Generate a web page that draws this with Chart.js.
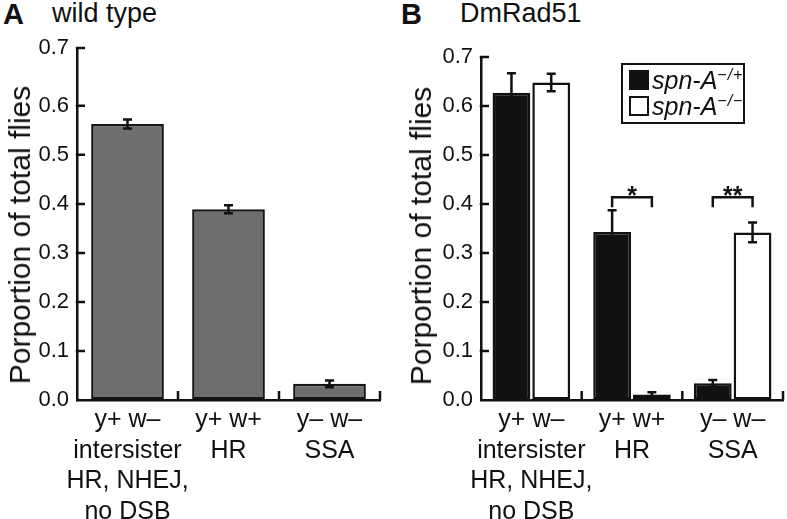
<!DOCTYPE html>
<html>
<head>
<meta charset="utf-8">
<script src="https://cdn.jsdelivr.net/npm/chart.js@4.4.0/dist/chart.umd.min.js"></script>
<style>
  html, body { margin: 0; padding: 0; background: #fff; }
  body { width: 787px; height: 519px; overflow: hidden; position: relative;
         font-family: "Liberation Sans", Arial, Helvetica, sans-serif; color: #111; }
  .wrap { position: absolute; top: 0; height: 519px; }
  .plab { position: absolute; top: 0; font-weight: bold; font-size: 29px; line-height: 1; }
  .ptitle { position: absolute; top: 0; font-size: 27px; line-height: 1; }
  .ytitle { position: absolute; font-size: 30px; line-height: 1; white-space: nowrap;
            transform: translate(-50%, -50%) rotate(-90deg); }
  #legend { position: absolute; left: 621px; top: 63px; width: 120px; height: 55px;
            border: 2.5px solid #111; padding-top: 2px; box-sizing: content-box; }
  #legend .row { display: flex; align-items: center; height: 26px; padding-left: 6px; }
  #legend .sw { width: 20px; height: 20px; box-sizing: border-box; border: 2px solid #111; margin-right: 3px; flex: none; }
  #legend .txt { font-style: italic; font-size: 25px; line-height: 1; white-space: nowrap; }
  #legend sup { font-size: 16px; font-style: italic; vertical-align: 9px; line-height: 0; letter-spacing: 1px; }
</style>
</head>
<body>
<div class="plab" style="left:3px;">A</div>
<div class="ptitle" style="left:52px;">wild type</div>
<div class="plab" style="left:401px;">B</div>
<div class="ptitle" style="left:460px;">DmRad51</div>

<div class="wrap" style="left:0; width:393px;"><canvas id="chartA" width="393" height="519"></canvas></div>
<div class="wrap" style="left:393px; width:394px;"><canvas id="chartB" width="394" height="519"></canvas></div>
<div id="titleA" class="ytitle" style="left:20px; top:235px;"></div>
<div id="titleB" class="ytitle" style="left:421px; top:236px;"></div>
<div id="legend"></div>

<script>
// ---------- data ----------
const categories = [
  ['y+ w–', 'intersister', 'HR, NHEJ,', 'no DSB'],
  ['y+ w+', 'HR'],
  ['y– w–', 'SSA']
];
const yTickValues = [0, 0.1, 0.2, 0.3, 0.4, 0.5, 0.6, 0.7];
const yTickLabels = ['0.0', '0.1', '0.2', '0.3', '0.4', '0.5', '0.6', '0.7'];

const wildTypeValues = [0.563, 0.389, 0.033];
const wildTypeErrors = [0.009, 0.008, 0.007];

const hetValues = [0.627, 0.343, 0.034];
const hetErrors = [0.040, 0.044, 0.007];
const homValues = [0.648, 0.011, 0.342];
const homErrors = [0.018, 0.005, 0.020];

const seriesNames = ['spn-A', 'spn-A'];
const seriesSup = ['−/+', '−/−'];

const sigLabels = ['', '*', '**'];
const sigHeights = [null, 0.414, 0.414];

const yTitle = 'Porportion of total flies';

// ---------- plugins ----------
const INK = '#111';
const errorBarPlugin = {
  id: 'errorBars',
  afterDatasetsDraw(chart) {
    const ctx = chart.ctx, y = chart.scales.y;
    chart.data.datasets.forEach((ds, di) => {
      const meta = chart.getDatasetMeta(di);
      meta.data.forEach((bar, j) => {
        const v = ds.data[j], e = ds.errors[j];
        const yt = y.getPixelForValue(v + e), yb = y.getPixelForValue(v - e), x = bar.x;
        ctx.save();
        ctx.strokeStyle = INK; ctx.lineWidth = 2.5;
        ctx.beginPath();
        ctx.moveTo(x, yt); ctx.lineTo(x, yb);
        ctx.moveTo(x - 4.5, yt); ctx.lineTo(x + 4.5, yt);
        ctx.moveTo(x - 4.5, yb); ctx.lineTo(x + 4.5, yb);
        ctx.stroke();
        ctx.restore();
      });
    });
  }
};

const axisTickPlugin = {
  id: 'axisTicks',
  afterDraw(chart) {
    const ctx = chart.ctx, x = chart.scales.x, y = chart.scales.y, a = chart.chartArea;
    ctx.save();
    ctx.strokeStyle = INK; ctx.lineWidth = 2.5;
    ctx.beginPath();
    y.ticks.forEach(t => {
      if (t.value === 0) return;
      const py = y.getPixelForValue(t.value);
      ctx.moveTo(a.left - 1.25, py); ctx.lineTo(a.left + 8, py);
    });
    for (let i = 0; i < x.ticks.length; i++) {
      const px = x.getPixelForValue(i + 0.5);
      ctx.moveTo(px, a.bottom); ctx.lineTo(px, a.bottom - 9);
    }
    ctx.stroke();
    ctx.restore();
  }
};

const bracketPlugin = {
  id: 'sigBrackets',
  afterDatasetsDraw(chart) {
    if (chart.data.datasets.length < 2) return;
    const ctx = chart.ctx, y = chart.scales.y;
    const m0 = chart.getDatasetMeta(0), m1 = chart.getDatasetMeta(1);
    sigLabels.forEach((lab, j) => {
      if (!lab) return;
      const x1 = m0.data[j].x, x2 = m1.data[j].x;
      const yt = y.getPixelForValue(sigHeights[j]);
      ctx.save();
      ctx.strokeStyle = INK; ctx.lineWidth = 2.5;
      ctx.beginPath();
      ctx.moveTo(x1, yt + 10); ctx.lineTo(x1, yt); ctx.lineTo(x2, yt); ctx.lineTo(x2, yt + 10);
      ctx.stroke();
      ctx.fillStyle = INK;
      ctx.font = 'bold 25px "Liberation Sans", Arial, sans-serif';
      ctx.textAlign = 'center'; ctx.textBaseline = 'alphabetic';
      ctx.fillText(lab, (x1 + x2) / 2, yt + 7);
      ctx.restore();
    });
  }
};

// ---------- shared options ----------
const FONT = '"Liberation Sans", Arial, Helvetica, sans-serif';
Chart.defaults.font.family = FONT;
Chart.defaults.color = INK;

function makeOptions(cfg) {
  return {
    responsive: false,
    animation: false,
    devicePixelRatio: 1,
    layout: { padding: { left: 0, right: cfg.padRight, top: cfg.padTop, bottom: 0 } },
    plugins: { legend: { display: false }, tooltip: { enabled: false }, title: { display: false } },
    scales: {
      x: {
        type: 'category',
        offset: true,
        grid: { display: true, drawOnChartArea: false, drawTicks: false },
        border: { display: true, color: INK, width: 2.5 },
        ticks: { color: INK, font: { size: 25, lineHeight: 1.22 }, padding: 5, maxRotation: 0, autoSkip: false },
        afterFit: s => { s.height = 519 - cfg.bottom; }
      },
      y: {
        min: 0,
        max: cfg.yMax,
        afterBuildTicks: s => {
          s.ticks = yTickValues.map((v, i, arr) => ({ value: i === arr.length - 1 ? s.max : v }));
        },
        grid: { display: true, drawOnChartArea: false, drawTicks: false },
        border: { display: true, color: INK, width: 2.5 },
        ticks: { color: INK, font: { size: 22 }, padding: 8, callback: (v, i) => yTickLabels[i] },
        title: { display: false },
        afterFit: s => { s.width = cfg.axisLeft; }
      }
    }
  };
}

// ---------- chart A ----------
const chartA = new Chart(document.getElementById('chartA'), {
  type: 'bar',
  data: {
    labels: categories,
    datasets: [{
      label: 'wild type',
      data: wildTypeValues,
      errors: wildTypeErrors,
      backgroundColor: '#6e6e6e',
      borderColor: '#161616',
      borderWidth: 2.5,
      borderSkipped: false,
      categoryPercentage: 0.72,
      barPercentage: 1.0
    }]
  },
  options: makeOptions({ padRight: 13, padTop: 48, bottom: 400, yMax: 0.718, axisLeft: 77 }),
  plugins: [errorBarPlugin, axisTickPlugin]
});

// ---------- chart B ----------
const chartB = new Chart(document.getElementById('chartB'), {
  type: 'bar',
  data: {
    labels: categories,
    datasets: [{
      label: seriesNames[0],
      data: hetValues,
      errors: hetErrors,
      backgroundColor: '#111111',
      borderColor: '#111111',
      borderWidth: 2.5,
      borderSkipped: false,
      categoryPercentage: 0.79,
      barPercentage: 0.95
    }, {
      label: seriesNames[1],
      data: homValues,
      errors: homErrors,
      backgroundColor: '#ffffff',
      borderColor: '#111111',
      borderWidth: 2.5,
      borderSkipped: false,
      categoryPercentage: 0.79,
      barPercentage: 0.95
    }]
  },
  options: makeOptions({ padRight: 4, padTop: 57, bottom: 400, yMax: 0.7, axisLeft: 88 }),
  plugins: [errorBarPlugin, axisTickPlugin, bracketPlugin]
});

// ---------- axis titles (real text) ----------
document.getElementById('titleA').textContent = yTitle;
document.getElementById('titleB').textContent = yTitle;

// ---------- legend (HTML, built from chart B datasets) ----------
const legendEl = document.getElementById('legend');
chartB.data.datasets.forEach((ds, i) => {
  const row = document.createElement('div');
  row.className = 'row';
  const sw = document.createElement('span');
  sw.className = 'sw';
  sw.style.background = ds.backgroundColor;
  const txt = document.createElement('span');
  txt.className = 'txt';
  txt.textContent = ds.label;
  const sup = document.createElement('sup');
  sup.textContent = seriesSup[i];
  txt.appendChild(sup);
  row.appendChild(sw); row.appendChild(txt);
  legendEl.appendChild(row);
});
</script>
</body>
</html>
